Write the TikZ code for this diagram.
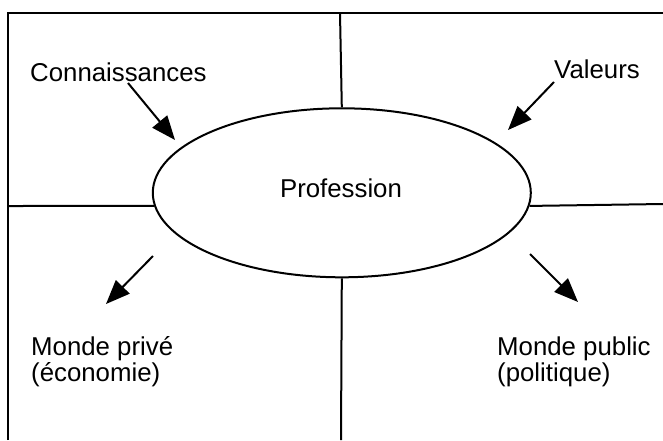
\documentclass[tikz,border=0pt]{standalone}
\usepackage{fontspec}
\setmainfont{Liberation Sans}
\usetikzlibrary{shapes.geometric,arrows.meta}
\begin{document}
\begin{tikzpicture}[x=1pt,y=-1pt,
  frame/.style={line width=2pt},
  conn/.style={line width=2pt,-{Triangle[length=24pt,width=19pt]}},
  lbl/.style={inner sep=0pt,font=\fontsize{25.8}{26}\selectfont,align=left}]
\useasboundingbox (0,0) rectangle (663,440);
% outer frame (open on right and bottom)
\coordinate (tl) at (8,13);
\coordinate (bl) at (8,440);
\coordinate (tr) at (663,13);
\draw[frame] (bl) -- (tl) -- (tr);
% central ellipse
\node[ellipse,draw,line width=2pt,inner sep=0pt,minimum width=378pt,minimum height=169pt,fill=white] (prof) at (341.8,192.8) {};
\node[lbl,anchor=base] (proft) at (341,197) {Profession};
% dividing lines
\coordinate (topmid) at (340,13);
\coordinate (botmid) at (341,440);
\coordinate (leftmid) at (8,206);
\coordinate (rightmid) at (663,204);
\draw[frame] (topmid) -- (prof.north);
\draw[frame] (prof.south) -- (botmid);
\draw[frame] (leftmid) -- (prof.184);
\draw[frame] (prof.356.6) -- (rightmid);
% labels
\node[lbl,anchor=base west] (con) at (30,81) {Connaissances};
\node[lbl,anchor=base west] (val) at (554,78) {Valeurs};
\node[lbl,anchor=base west] (priv) at (31,381) {Monde privé\\(économie)};
\node[lbl,anchor=base west] (pub) at (497,381) {Monde public\\(politique)};
% arrows
\coordinate (a1s) at (128,83);  \coordinate (a1e) at (175,140);
\coordinate (a2s) at (554,82);  \coordinate (a2e) at (508,130);
\coordinate (a3s) at (153,256); \coordinate (a3e) at (106,304);
\coordinate (a4s) at (530,254); \coordinate (a4e) at (578,302);
\draw[conn] (a1s) -- (a1e);
\draw[conn] (a2s) -- (a2e);
\draw[conn] (a3s) -- (a3e);
\draw[conn] (a4s) -- (a4e);
\end{tikzpicture}
\end{document}
